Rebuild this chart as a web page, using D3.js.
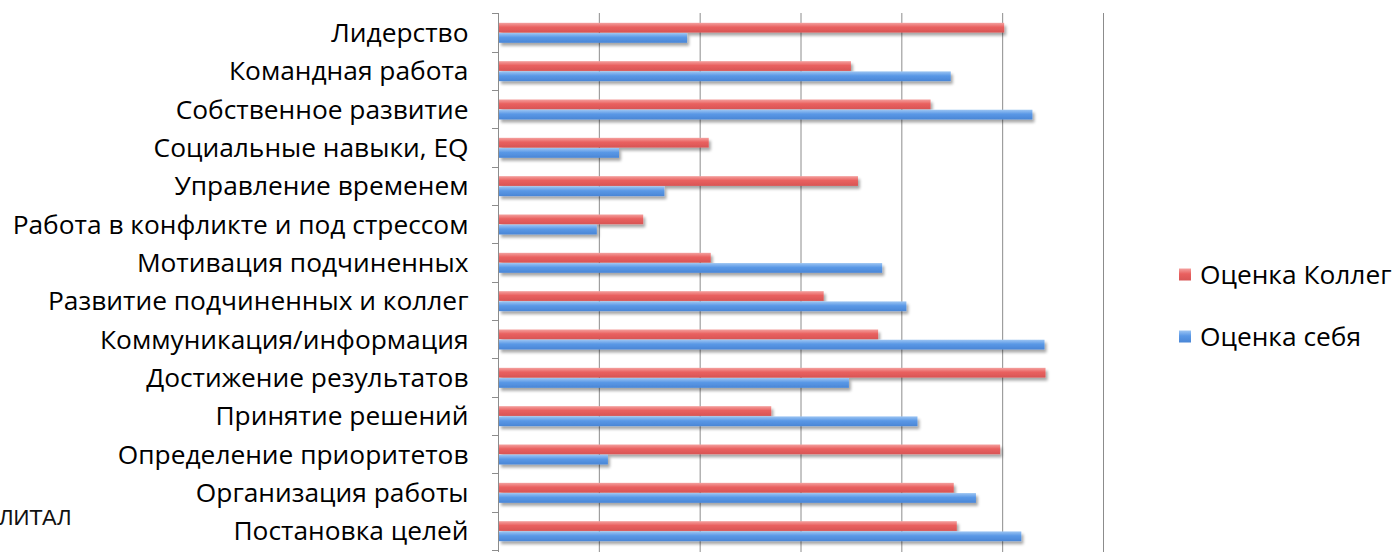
<!DOCTYPE html>
<html><head><meta charset="utf-8">
<script src="https://cdn.jsdelivr.net/npm/d3@7"></script>
<style>html,body{margin:0;padding:0;background:#fff;overflow:hidden}</style>
</head><body>
<svg id="chart" width="1397" height="552"></svg>
<script>
const categories = ["Лидерство","Командная работа","Собственное развитие","Социальные навыки, EQ","Управление временем","Работа в конфликте и под стрессом","Мотивация подчиненных","Развитие подчиненных и коллег","Коммуникация/информация","Достижение результатов","Принятие решений","Определение приоритетов","Организация работы","Постановка целей"];
const seriesNames = ["Оценка Коллег","Оценка себя"];
const colleagues = [5.02,3.50,4.29,2.09,3.57,1.44,2.11,3.23,3.77,5.43,2.71,4.98,4.52,4.55];
const self = [1.875,4.49,5.30,1.20,1.65,0.98,3.81,4.05,5.42,3.48,4.16,1.09,4.74,5.19];
const xTicks = [0,1,2,3,4,5,6];
const footerText = "ЛИТАЛ";

const svg = d3.select("#chart");
const FONT = "'Open Sans', 'Noto Sans', sans-serif";
const x = d3.scaleLinear().domain([0,6]).range([498,1103]);
const y = d3.scaleBand().domain(categories).range([13.3,550]).paddingInner(0);
const ys = d3.scaleBand().domain(seriesNames).range([9.5,30]).paddingInner(0);
const colors = {"Оценка Коллег":["#f4a19f","#e9605f","#d85555"],"Оценка себя":["#9cc5f3","#5a98e6","#4a86d6"]};

const defs = svg.append("defs");
seriesNames.forEach((s,i)=>{
  const g = defs.append("linearGradient").attr("id","g"+i).attr("x1",0).attr("y1",0).attr("x2",0).attr("y2",1);
  g.append("stop").attr("offset","0%").attr("stop-color",colors[s][0]);
  g.append("stop").attr("offset","45%").attr("stop-color",colors[s][1]);
  g.append("stop").attr("offset","100%").attr("stop-color",colors[s][2]);
});
const f = defs.append("filter").attr("id","shadow").attr("x","-5%").attr("y","-50%").attr("width","110%").attr("height","250%");
f.append("feGaussianBlur").attr("in","SourceAlpha").attr("stdDeviation",1.6).attr("result","b");
f.append("feOffset").attr("in","b").attr("dx",1.5).attr("dy",2.5).attr("result","o");
f.append("feComponentTransfer").attr("in","o").attr("result","oa").append("feFuncA").attr("type","linear").attr("slope",0.35);
const m = f.append("feMerge"); m.append("feMergeNode").attr("in","oa"); m.append("feMergeNode").attr("in","SourceGraphic");

// gridlines
svg.append("g").selectAll("line").data(xTicks.slice(1)).join("line")
  .attr("x1",d=>x(d)+0.5).attr("x2",d=>x(d)+0.5).attr("y1",13).attr("y2",552)
  .attr("stroke","#8c8c8c").attr("stroke-width",1);

// bars
const data = categories.map((c,i)=>({c, vals:[colleagues[i], self[i]]}));
const grp = svg.append("g").attr("filter","url(#shadow)");
data.forEach(d=>{
  d.vals.forEach((v,j)=>{
    grp.append("rect").attr("x",x(0)+1).attr("y",y(d.c)+ys(seriesNames[j]))
      .attr("width",x(v)-x(0)-1).attr("height",ys.bandwidth()-0.5)
      .attr("fill","url(#g"+j+")");
  });
});

// y axis
const yAxis = d3.axisLeft(y).tickSize(0).tickPadding(30).tickFormat(d=>d);
const ag = svg.append("g").attr("transform",`translate(${x(0)+0.5},0)`).call(yAxis);
ag.select(".domain").attr("stroke","#8c8c8c").attr("d",`M0,13V552`);
ag.selectAll(".tick text").attr("font-family",FONT).attr("font-size",21).attr("fill","#000").attr("dy","0.36em");
// band boundary ticks
svg.append("g").selectAll("line").data(categories.concat([null])).join("line")
  .attr("x1",x(0)-6).attr("x2",x(0)+0.5)
  .attr("y1",(d,i)=>Math.round(13.3+i*y.step())+0.5).attr("y2",(d,i)=>Math.round(13.3+i*y.step())+0.5)
  .attr("stroke","#8c8c8c");

// fit label font
const texts = ag.selectAll(".tick text").nodes();
const maxW = d3.max(texts, t=>t.getComputedTextLength());
const fs = 21*456/maxW;
ag.selectAll(".tick text").attr("font-size",fs);

// legend
const lg = svg.append("g").attr("transform","translate(1179,0)");
seriesNames.forEach((s,i)=>{
  const cy = 274.5 + i*62;
  lg.append("rect").attr("x",0).attr("y",cy-6).attr("width",12).attr("height",12).attr("fill","url(#g"+i+")");
  lg.append("text").attr("x",21).attr("y",cy).attr("dy","0.36em").attr("font-family",FONT).attr("font-size",fs).attr("fill","#000").text(s);
});

svg.append("text").attr("x",-1).attr("y",525).attr("font-family","'Liberation Sans', Arial, sans-serif").attr("font-size",22).attr("fill","#111").text(footerText);
</script>
</body></html>
